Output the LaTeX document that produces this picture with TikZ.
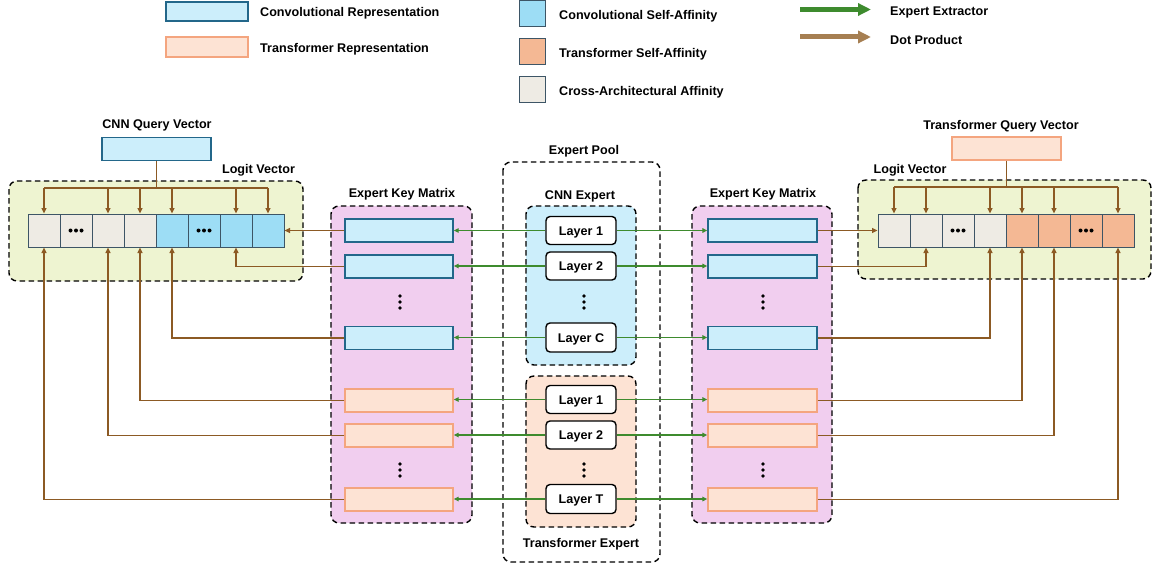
\documentclass[tikz,border=0pt]{standalone}
\usepackage{fontspec}
\setmainfont{Liberation Sans}
\usetikzlibrary{arrows.meta,calc}

\definecolor{convFill}{HTML}{CCEEFB}
\definecolor{convDraw}{HTML}{23678A}
\definecolor{trFill}{HTML}{FDE3D4}
\definecolor{trDraw}{HTML}{F4A57F}
\definecolor{convSA}{HTML}{9DDDF5}
\definecolor{trSA}{HTML}{F4B894}
\definecolor{crossA}{HTML}{EEEBE4}
\definecolor{cellDraw}{HTML}{3D5566}
\definecolor{logitFill}{HTML}{EEF4D1}
\definecolor{keyFill}{HTML}{F1CEEF}
\definecolor{extGreen}{HTML}{3E8B2E}
\definecolor{dotBrown}{HTML}{8C5A24}
\definecolor{legBrown}{HTML}{A67F52}

\tikzset{
  txt/.style={inner sep=0pt, text height=9pt, text depth=0pt,
    font=\fontsize{12.6}{14}\selectfont\bfseries},
  group/.style={draw=black, line width=1.4pt, dash pattern=on 5.5pt off 3.5pt, rounded corners=8pt},
  convbar/.style={draw=convDraw, fill=convFill, line width=1.3pt, minimum height=23pt, inner sep=0pt},
  trbar/.style={draw=trDraw, fill=trFill, line width=1.3pt, minimum height=23pt, inner sep=0pt},
  cell/.style={draw=cellDraw, line width=1pt, minimum width=32pt, minimum height=33pt, inner sep=0pt},
  layerbox/.style={draw=black, fill=white, line width=1.4pt, rounded corners=4pt,
    minimum width=70pt, minimum height=28pt, inner sep=0pt, text height=9pt, text depth=0pt,
    font=\fontsize{12.6}{14}\selectfont\bfseries},
  extract/.style={draw=extGreen, line width=1.4pt, -{Triangle[length=5pt,width=4.5pt]}},
  dotprod/.style={draw=dotBrown, line width=1.7pt, -{Triangle[length=5.5pt,width=5pt]}},
  dotline/.style={draw=dotBrown, line width=1.7pt},
}

\newcommand{\vdotsat}[1]{%
  \foreach \dd in {-6,0,6} \fill ($(#1)+(0,\dd)$) circle (1.9pt);}
\newcommand{\hdotsat}[1]{%
  \foreach \dd in {-5.5,0,5.5} \fill ($(#1)+(\dd,0)$) circle (2pt);}

\begin{document}
\begin{tikzpicture}[x=1pt,y=-1pt]
\useasboundingbox (0,0) rectangle (1154,567);

% ---------- legend ----------
\node[convbar, minimum width=82pt, minimum height=19pt] (lgConv) at (207,11.5) {};
\node[txt, anchor=west] (lgConvT) at (260,12.5) {Convolutional Representation};
\node[trbar, minimum width=82pt, minimum height=20pt] (lgTr) at (207,47) {};
\node[txt, anchor=west] (lgTrT) at (260,48) {Transformer Representation};

\node[cell, fill=convSA, minimum width=26pt, minimum height=26pt] (lgCSA) at (532.5,14) {};
\node[txt, anchor=west] (lgCSAT) at (559,15) {Convolutional Self-Affinity};
\node[cell, fill=trSA, minimum width=26pt, minimum height=26pt] (lgTSA) at (532.5,52) {};
\node[txt, anchor=west] (lgTSAT) at (559,53) {Transformer Self-Affinity};
\node[cell, fill=crossA, minimum width=26pt, minimum height=26pt] (lgX) at (532.5,90) {};
\node[txt, anchor=west] (lgXT) at (559,91) {Cross-Architectural Affinity};

\coordinate (lgG1) at (800,9.5);
\coordinate (lgG2) at (871,9.5);
\coordinate (lgB1) at (800,37);
\coordinate (lgB2) at (871,37);
\draw[draw=extGreen, line width=5pt, -{Triangle[length=13pt,width=12pt]}] (lgG1) -- (lgG2);
\draw[draw=legBrown, line width=5pt, -{Triangle[length=13pt,width=12pt]}] (lgB1) -- (lgB2);
\node[txt, anchor=west] (lgGT) at (890,11) {Expert Extractor};
\node[txt, anchor=west] (lgBT) at (890,40.5) {Dot Product};

% ---------- group frames ----------
\draw[group, fill=logitFill] (9,181) rectangle (303,281);
\draw[group, fill=logitFill] (858,180) rectangle (1151,279);
\draw[group, fill=keyFill] (331,206) rectangle (472,523);
\draw[group, fill=keyFill] (692,206) rectangle (832,523);
\draw[group] (503,162) rectangle (660,562);
\draw[group, fill=convFill] (526,206) rectangle (636,365);
\draw[group, fill=trFill] (526,376) rectangle (636,527);

\node[txt] (tLogL) at (258.5,169) {Logit Vector};
\node[txt] (tLogR) at (910,168.5) {Logit Vector};
\node[txt] (tKeyL) at (402,193) {Expert Key Matrix};
\node[txt] (tKeyR) at (763,193) {Expert Key Matrix};
\node[txt] (tPool) at (584,150) {Expert Pool};
\node[txt] (tCNN) at (580,194.5) {CNN Expert};
\node[txt] (tTrE) at (581,542.5) {Transformer Expert};
\node[txt] (tQL) at (157,124) {CNN Query Vector};
\node[txt] (tQR) at (1001,125) {Transformer Query Vector};

% ---------- query vectors ----------
\node[convbar, minimum width=109pt, minimum height=23pt] (qL) at (156.5,149) {};
\node[trbar, minimum width=109pt, minimum height=23pt] (qR) at (1006.5,148.5) {};

% ---------- logit cells ----------
\foreach \i/\c in {1/crossA,2/crossA,3/crossA,4/crossA,5/convSA,6/convSA,7/convSA,8/convSA}
  \node[cell, fill=\c] (L\i) at ({28+32*(\i-1)+16},230.5) {};
\foreach \i/\c in {1/crossA,2/crossA,3/crossA,4/crossA,5/trSA,6/trSA,7/trSA,8/trSA}
  \node[cell, fill=\c] (R\i) at ({878+32*(\i-1)+16},230.5) {};
\hdotsat{L2.center}
\hdotsat{L6.center}
\hdotsat{R3.center}
\hdotsat{R7.center}

% ---------- key matrices ----------
\foreach \n/\y in {1/230.5,2/266.5,c/338}{
  \node[convbar, minimum width=108pt] (kl\n) at (399,\y) {};
  \node[convbar, minimum width=109pt] (kr\n) at (762.5,\y) {};
}
\foreach \n/\y in {1/400.5,2/435.5,T/499.5}{
  \node[trbar, minimum width=108pt] (klt\n) at (399,\y) {};
  \node[trbar, minimum width=109pt] (krt\n) at (762.5,\y) {};
}
\vdotsat{400,302}
\vdotsat{763,302}
\vdotsat{400,470}
\vdotsat{763,470}

% ---------- expert layers ----------
\node[layerbox] (c1) at (581,230.5) {Layer 1};
\node[layerbox] (c2) at (581,266) {Layer 2};
\node[layerbox, minimum height=29pt] (cC) at (581,337.5) {Layer C};
\node[layerbox] (t1) at (581,399.5) {Layer 1};
\node[layerbox] (t2) at (581,435) {Layer 2};
\node[layerbox, minimum height=29pt] (tT) at (581,499) {Layer T};
\vdotsat{584,302}
\vdotsat{584,470}

% ---------- expert extraction ----------
\foreach \a/\b in {c1/kl1,c2/kl2,cC/klc,t1/klt1,t2/klt2,tT/kltT}
  \draw[extract] (\a.west) -- (\b.east |- \a.west);
\foreach \a/\b in {c1/kr1,c2/kr2,cC/krc,t1/krt1,t2/krt2,tT/krtT}
  \draw[extract] (\a.east) -- (\b.west |- \a.east);

% ---------- dot products: keys to logits ----------
\draw[dotprod] (kl1.west) -- (L8.east);
\draw[dotprod] (kl2.west) -| (L7.south);
\draw[dotprod] (klc.west) -| (L5.south);
\draw[dotprod] (klt1.west) -| (L4.south);
\draw[dotprod] (klt2.west) -| (L3.south);
\draw[dotprod] (kltT.west) -| (L1.south);

\draw[dotprod] (kr1.east) -- (R1.west);
\draw[dotprod] (kr2.east) -| (R2.south);
\draw[dotprod] (krc.east) -| (R4.south);
\draw[dotprod] (krt1.east) -| (R5.south);
\draw[dotprod] (krt2.east) -| (R6.south);
\draw[dotprod] (krtT.east) -| (R8.south);

% ---------- dot products: queries to logits ----------
\coordinate (jL) at (156.5,188);
\draw[dotline] (qL.south) -- (jL);
\draw[dotline] (L1.north |- jL) -- (L8.north |- jL);
\foreach \i in {1,3,4,5,7,8}
  \draw[dotprod] (L\i.north |- jL) -- (L\i.north);

\coordinate (jR) at (1006.5,187);
\draw[dotline] (qR.south) -- (jR);
\draw[dotline] (R1.north |- jR) -- (R8.north |- jR);
\foreach \i in {1,2,4,5,6,8}
  \draw[dotprod] (R\i.north |- jR) -- (R\i.north);

\end{tikzpicture}
\end{document}
